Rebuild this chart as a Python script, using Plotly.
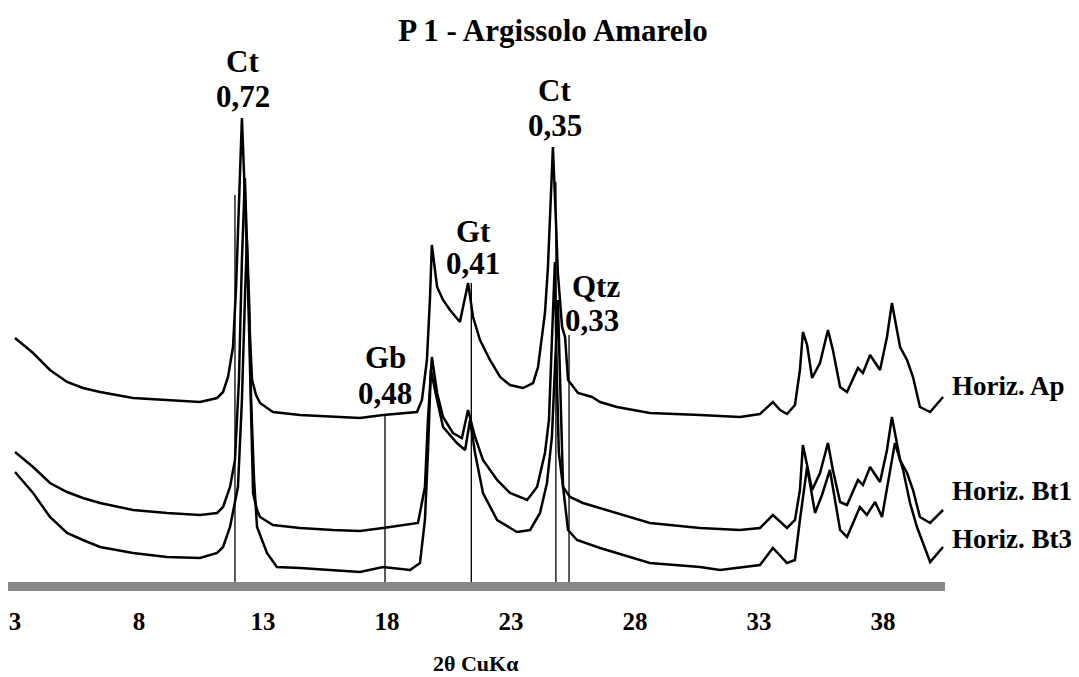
import plotly.graph_objects as go

# ---- data (2theta in degrees, intensity in arbitrary units, traces already offset) ----
ap_2theta = [3.00, 3.73, 4.41, 5.10, 5.74, 6.43, 7.76, 9.13, 10.46, 11.15, 11.39, 11.59, 11.79, 11.91, 12.07,
             12.15, 12.23, 12.35, 12.48, 12.56, 12.72, 12.88, 13.40, 14.49, 15.82, 16.91, 17.84, 19.21, 19.41,
             19.61, 19.73, 19.81, 20.02, 20.26, 20.54, 20.94, 21.27, 21.47, 21.75, 22.15, 22.56, 22.96, 23.48,
             23.89, 24.09, 24.37, 24.49, 24.61, 24.69, 24.81, 24.89, 25.06, 25.18, 25.30, 25.70, 26.27, 26.59,
             27.27, 28.60, 30.62, 32.23, 33.04, 33.56, 33.85, 34.13, 34.45, 34.65, 34.77, 34.94, 35.14, 35.46,
             35.78, 35.98, 36.27, 36.55, 36.99, 37.19, 37.48, 37.88, 38.16, 38.36, 38.69, 38.97, 39.21, 39.49,
             39.90, 40.42]
ap_counts = [244, 229, 212, 200, 194, 190, 184, 182, 180, 184, 190, 205, 235, 292, 412,
             464, 412, 322, 242, 202, 187, 179, 170, 167, 165, 164, 167, 170, 182,
             222, 282, 337, 295, 282, 272, 260, 299, 265, 242, 222, 205, 197, 194,
             199, 215, 269, 315, 392, 435, 362, 309, 255, 245, 202, 189, 185, 180,
             175, 169, 167, 165, 168, 180, 172, 168, 177, 212, 250, 237, 204, 219,
             252, 232, 195, 190, 214, 209, 227, 212, 245, 279, 235, 222, 205, 175,
             170, 185]

bt1_2theta = [3.00, 3.73, 4.41, 5.10, 5.74, 6.43, 7.76, 9.13, 10.46, 11.15, 11.39, 11.67, 11.87, 12.03, 12.15,
              12.27, 12.35, 12.44, 12.52, 12.60, 12.76, 12.88, 13.40, 14.49, 15.82, 16.91, 17.84, 19.25, 19.53,
              19.65, 19.81, 20.02, 20.26, 20.66, 21.02, 21.27, 21.55, 21.87, 22.44, 22.96, 23.65, 24.05, 24.37,
              24.53, 24.65, 24.77, 24.85, 24.93, 25.10, 25.38, 25.90, 27.27, 28.60, 30.62, 32.23, 33.04, 33.56,
              34.13, 34.45, 34.65, 34.77, 34.98, 35.14, 35.46, 35.78, 35.98, 36.27, 36.55, 36.99, 37.19, 37.48,
              37.88, 38.16, 38.36, 38.69, 38.97, 39.21, 39.49, 39.90, 40.42]
bt1_counts = [130, 115, 99, 90, 84, 79, 72, 69, 67, 69, 75, 95, 122, 202, 322,
              404, 342, 242, 152, 89, 72, 65, 57, 54, 52, 51, 54, 59, 95,
              162, 225, 189, 165, 149, 144, 172, 145, 122, 102, 89, 82, 95, 129,
              162, 242, 320, 202, 129, 95, 85, 79, 69, 59, 54, 52, 54, 67,
              54, 62, 92, 137, 112, 92, 109, 139, 112, 80, 77, 102, 97, 115,
              100, 132, 165, 122, 109, 92, 65, 59, 72]

bt3_2theta = [3.00, 3.73, 4.41, 5.10, 5.74, 6.43, 7.76, 9.13, 10.46, 11.15, 11.39, 11.67, 11.99, 12.15, 12.27,
              12.35, 12.44, 12.52, 12.64, 12.76, 13.16, 13.56, 14.49, 15.82, 16.91, 17.84, 18.93, 19.33, 19.53,
              19.65, 19.77, 20.02, 20.26, 20.82, 21.15, 21.35, 21.55, 21.87, 22.44, 23.24, 23.77, 24.17, 24.45,
              24.65, 24.77, 24.89, 24.98, 25.10, 25.30, 25.66, 26.59, 28.60, 30.62, 31.43, 33.04, 33.56, 34.13,
              34.45, 34.65, 34.94, 35.26, 35.54, 35.86, 36.27, 36.55, 37.07, 37.35, 37.68, 37.96, 38.20, 38.48,
              38.81, 39.09, 39.37, 39.90, 40.42]
bt3_counts = [110, 89, 65, 49, 42, 35, 29, 25, 24, 29, 35, 55, 95, 182, 282,
              342, 282, 182, 102, 55, 29, 15, 14, 12, 10, 15, 12, 19, 62,
              129, 212, 182, 155, 139, 132, 162, 129, 89, 62, 50, 52, 69, 99,
              145, 222, 282, 202, 95, 52, 42, 34, 19, 15, 12, 17, 34, 19,
              22, 62, 115, 69, 87, 112, 52, 45, 75, 67, 80, 65, 99, 139,
              112, 79, 55, 20, 35]

horizons = ["Horiz. Ap", "Horiz. Bt1", "Horiz. Bt3"]
horizon_label_level = [196, 91, 43]

# peak identification: mineral, d-spacing (nm), marker position and top, label positions
minerals = ["Ct", "Gb", "Gt", "Ct", "Qtz"]
d_spacing = ["0,72", "0,48", "0,41", "0,35", "0,33"]
marker_2theta = [11.87, 17.92, 21.40, 24.81, 25.34]
marker_top = [387, 167, 299, 400, 247]
mineral_label_2theta = [12.19, 17.92, 21.47, 24.77, 26.43]
mineral_label_level = [521, 225, 351, 492, 296]
d_label_2theta = [12.19, 17.92, 21.47, 24.77, 26.27]
d_label_level = [486, 189, 319, 457, 262]

tick_vals = [3, 8, 13, 18, 23, 28, 33, 38]
tick_text = ["3", "8", "13", "18", "23", "28", "33", "38"]

FONT = "Liberation Serif, Times New Roman, serif"

# the page body adds an 8 px margin, so the figure is 8 px smaller than the window
W, H = 1071, 669

fig = go.Figure()

for xs, ys in [(ap_2theta, ap_counts), (bt1_2theta, bt1_counts), (bt3_2theta, bt3_counts)]:
    fig.add_trace(go.Scatter(x=xs, y=ys, mode="lines",
                             line=dict(color="black", width=2.5), showlegend=False, hoverinfo="skip"))

for xm, top in zip(marker_2theta, marker_top):
    fig.add_trace(go.Scatter(x=[xm, xm], y=[0, top], mode="lines",
                             line=dict(color="black", width=1.3), showlegend=False, hoverinfo="skip"))

label_font = dict(family=FONT, size=31, color="black", weight="bold")
for m, mx, my in zip(minerals, mineral_label_2theta, mineral_label_level):
    fig.add_annotation(x=mx, y=my, xref="x", yref="y", text=m, showarrow=False,
                       font=label_font, xanchor="center", yanchor="middle")
for d, dx, dy in zip(d_spacing, d_label_2theta, d_label_level):
    fig.add_annotation(x=dx, y=dy, xref="x", yref="y", text=d, showarrow=False,
                       font=label_font, xanchor="center", yanchor="middle")

for name, lvl in zip(horizons, horizon_label_level):
    fig.add_annotation(x=1.0055, y=lvl, xref="paper", yref="y", text=name, showarrow=False,
                       font=dict(family=FONT, size=27, color="black", weight="bold"),
                       xanchor="left", yanchor="middle")

# axis title
fig.add_annotation(x=0.4995, y=-0.145, xref="paper", yref="paper", text="2θ CuKα", showarrow=False,
                   font=dict(family=FONT, size=22, color="black", weight="bold"),
                   xanchor="center", yanchor="middle")

# thick grey baseline
fig.add_shape(type="rect", xref="paper", yref="paper", x0=0, x1=1, y0=-9 / 560, y1=0,
              fillcolor="#888888", line=dict(width=0), layer="below")

fig.update_layout(
    width=W, height=H,
    margin=dict(l=0, r=134, t=14, b=95, autoexpand=False),
    paper_bgcolor="white", plot_bgcolor="white",
    title=dict(text="P 1 - Argissolo Amarelo", x=545 / W, xref="container", xanchor="center",
               y=1 - 22 / H, yanchor="middle",
               font=dict(family=FONT, size=31, color="black", weight="bold")),
    xaxis=dict(range=[2.718, 40.5], tickmode="array", tickvals=tick_vals, ticktext=tick_text,
               showgrid=False, zeroline=False, showline=False, ticks="", ticklabelstandoff=22,
               tickfont=dict(family=FONT, size=25, color="black", weight="bold")),
    yaxis=dict(range=[0, 560], visible=False, showgrid=False, zeroline=False),
)

fig.write_html("out.html")
